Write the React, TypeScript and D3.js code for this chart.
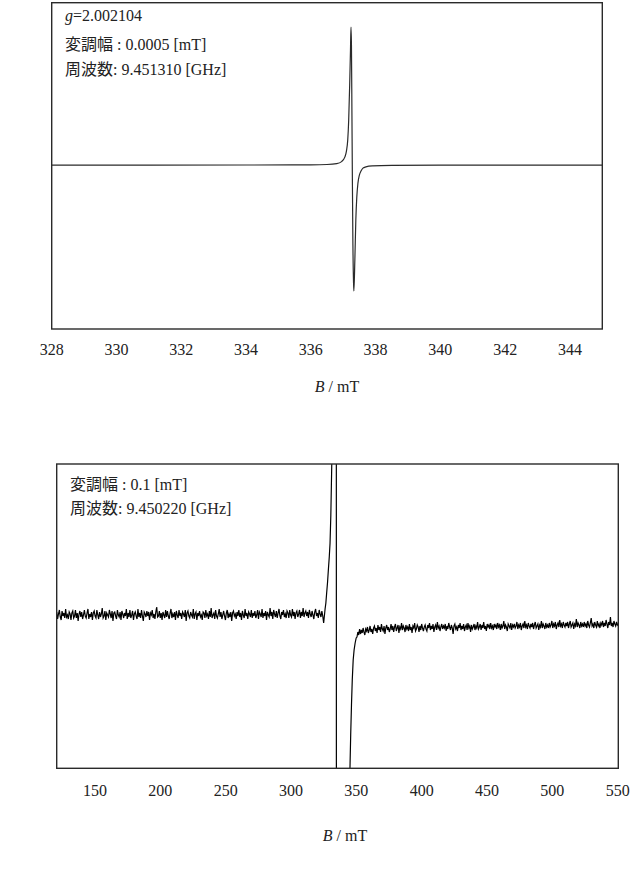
import React from 'react';
import * as d3 from 'd3';

// ---------- Top spectrum (narrow scan) ----------
const topTicks = [328, 330, 332, 334, 336, 338, 340, 342, 344];
const topDomain = [328, 345];
const topField = [
  328.0, 334.0, 336.0, 336.5, 336.8, 336.95, 337.05, 337.1, 337.14, 337.17, 337.2, 337.225, 337.24,
  337.255, 337.27, 337.285, 337.3, 337.32, 337.33, 337.36, 337.39, 337.42, 337.455, 337.5, 337.55,
  337.61, 337.7, 337.9, 338.5, 340.0, 345.0,
];
const topSignal = [
  0, 0.1, 0.3, 0.6, 1.5, 3.5, 8, 14, 25, 45, 80, 115, 138,
  120, 50, -20, -80, -118, -126, -95, -55, -32, -18, -10, -6,
  -3, -1.8, -0.8, -0.3, -0.1, 0,
];
const topLabels = ['2.002104', '変調幅 : 0.0005 [mT]', '周波数: 9.451310 [GHz]'];

// ---------- Bottom spectrum (wide scan) ----------
const bottomTicks = [150, 200, 250, 300, 350, 400, 450, 500, 550];
const bottomDomain = [120.7, 550.5];
const leftNoiseRange = [120.7, 325];
const leftNoise = [
  3, -4, 1, 5, -2, -5, 4, -1, 2, -3, 6, -2, 0, -4, 3, 1, -5, 2, 4, -3,
  -1, 5, -3, 2, -6, 1, 4, -2, 3, -4, 0, 5, -1, -3, 2, 6, -4, 1, -2, 3,
  -5, 2, 4, -1, -3, 5, 0, -4, 3, -2, 1, 7, -3, -1, 4, -5, 2, 0, -2, 5,
  1, -3, 4, -6, 2, 3, -1, -4, 5, 0, -2, 3, -5, 4, 1, -3, 2, -1, 6, -4,
  2, -2, 5, -3, 0, 4, -5, 1, 3, -1, -4, 6, -2, 2, -3, 5, -1, -6, 3, 1,
  -2, 4, -1, 3, -5, 2, 0, 5, -3, 1, -4, 3, 8, -2, -1, 4, -3, 2, -5, 3,
  0, -3, 5, -2, 4, -1, -4, 2, 6, -3, 1, -2, 3, -5, 4, 0, -3, 5, -1, 2,
  -4, 3, 1, -2, 5, -6, 2, 4, -1, -3, 3, 0, -2, 6, -4, 1, 3, -5, 2, -1,
  4, -2, 0, -5, 3, 2, -3, 5, -1, 1, -4, 4, -2, 7, -3, 0, 2, -4, 5, -1,
  -3, 1, 6, -2, 3, -4, 0, 4, -1, -5, 2, 5, -3, 1, -2, 3, -6, 2, 4, -1,
  1, -4, 3, -1, 5, -2, 2, -5, 4, 0, -3, 6, -1, 2, -4, 3, 1, -2, 5, -3,
  2, -1, 4, -3, 0, 5, -4, 3, 1, -2, 6, -3, 2, -1, 4, -5, 3, 0, -2, 7,
  -1, 3, -4, 5, 1, -2, 4, -3, 2, 6, -1, -4, 3, 0, 5, -2, 1, -3, 4, 2,
  -3, 5, 0, -2, 6, -1, 3, -4, 2, 4, -2, 1, 5, -3, 3, -1, 7, -2, 2, 4,
  -1, 3, -3, 5, 1, -2, 4, 0, -4, 3, 6, -1, 2, -3, 5, 1, -2, 4, -1, -8,
];
const spikeField = [
  326.1, 326.7, 327.3, 328.0, 328.6, 329.3, 329.9, 330.5, 331.2, 332.0, 333.5, 334.65, 334.8,
  340.0, 344.5, 345.1, 345.7, 346.3, 346.9, 347.6, 348.3, 349.1, 349.9,
];
const spikeSignal = [
  6, 12, 22, 33, 45, 58, 72, 100, 150, 250, 450, 700, -700,
  -600, -200, -156, -120, -90, -65, -45, -35, -28, -23,
];
const rightNoiseRange = [350.5, 550.5];
const rightNoise = [
  -22, -17, -20, -14, -19, -15, -18, -13, -17, -20, -14, -16, -12, -18, -15, -11, -17, -14, -19, -13,
  -11, -16, -13, -18, -10, -15, -12, -17, -9, -14, -16, -11, -19, -13, -10, -15, -12, -17, -14, -9,
  -15, -11, -17, -12, -9, -16, -13, -10, -18, -12, -14, -8, -15, -11, -13, -17, -10, -14, -12, -16,
  -9, -15, -12, -18, -11, -13, -8, -16, -14, -10, -12, -17, -11, -15, -9, -13, -16, -12, -10, -14,
  -16, -10, -13, -8, -15, -11, -14, -9, -17, -12, -10, -15, -7, -13, -11, -16, -12, -9, -14, -11,
  -13, -9, -16, -11, -14, -8, -12, -15, -10, -13, -19, -11, -9, -14, -12, -16, -10, -13, -8, -15,
  -11, -14, -9, -16, -12, -10, -15, -8, -13, -11, -17, -10, -14, -12, -9, -15, -11, -13, -7, -14,
  -12, -9, -15, -10, -13, -7, -14, -11, -16, -9, -12, -10, -14, -8, -13, -11, -15, -9, -12, -10,
  -14, -8, -12, -10, -15, -9, -13, -11, -6, -14, -10, -12, -16, -9, -11, -13, -8, -15, -10, -12,
  -9, -13, -11, -7, -14, -10, -12, -8, -15, -11, -9, -13, -6, -12, -10, -14, -8, -11, -13, -9,
  -12, -8, -14, -10, -7, -13, -11, -9, -15, -10, -12, -6, -13, -9, -11, -14, -8, -12, -10, -13,
  -8, -12, -10, -6, -13, -9, -11, -7, -14, -10, -8, -12, -5, -11, -9, -13, -7, -10, -12, -8,
  -11, -7, -13, -9, -6, -12, -10, -8, -14, -9, -11, -4, -12, -8, -10, -13, -7, -11, -9, -12,
  -7, -11, -9, -13, -6, -10, -12, -8, -3, -11, -9, -13, -7, -10, -12, -6, -11, -9, -13, -8,
  -10, -6, -12, -8, -11, -5, -9, -13, -7, -10, -2, -11, -8, -12, -6, -9, -11, -7, -10, -9,
];
const bottomLabels = ['変調幅 : 0.1 [mT]', '周波数: 9.450220 [GHz]'];
const axisTitle = ['B', ' / mT'];

const FONT = "'Liberation Serif', 'Times New Roman', 'DejaVu Serif', 'Noto Sans CJK JP', serif";

type Pt = [number, number];

function sampled(range: number[], values: number[]): Pt[] {
  const step = (range[1] - range[0]) / (values.length - 1);
  return values.map((v, i) => [range[0] + i * step, v]);
}

export default function App() {
  // top panel geometry
  const T = { left: 51.7, right: 602.3, top: 2.7, bottom: 329 };
  const xTop = d3.scaleLinear().domain(topDomain).range([T.left, T.right]);
  const yTop = d3.scaleLinear().domain([-164, 162.5]).range([T.bottom, T.top]);
  const topPts: Pt[] = topField.map((b, i) => [b, topSignal[i]]);
  const topPath = d3
    .line<Pt>()
    .x((d) => xTop(d[0]))
    .y((d) => yTop(d[1]))
    .curve(d3.curveMonotoneX)(topPts);

  // bottom panel geometry
  const Bm = { left: 56.7, right: 618.3, top: 464, bottom: 768.3 };
  const xBot = d3.scaleLinear().domain(bottomDomain).range([Bm.left, Bm.right]);
  const yBot = d3.scaleLinear().domain([-153.3, 151]).range([Bm.bottom, Bm.top]);
  const botPts: Pt[] = [
    ...sampled(leftNoiseRange, leftNoise),
    ...spikeField.map((b, i) => [b, spikeSignal[i]] as Pt),
    ...sampled(rightNoiseRange, rightNoise),
  ];
  const botPath = d3
    .line<Pt>()
    .x((d) => xBot(d[0]))
    .y((d) => yBot(d[1]))(botPts);

  const textStyle: React.CSSProperties = { fontFamily: FONT, fontSize: 16, fill: '#222' };

  return (
    <svg
      width={634}
      height={874}
      viewBox="0 0 634 874"
      style={{ position: 'absolute', left: 0, top: 0, background: '#fff' }}
    >
      <defs>
        <clipPath id="clipTop">
          <rect x={T.left} y={T.top} width={T.right - T.left} height={T.bottom - T.top} />
        </clipPath>
        <clipPath id="clipBot">
          <rect x={Bm.left} y={Bm.top} width={Bm.right - Bm.left} height={Bm.bottom - Bm.top} />
        </clipPath>
      </defs>

      {/* ---------- top panel ---------- */}
      <path d={topPath || ''} fill="none" stroke="#2a2a2a" strokeWidth={1.2} clipPath="url(#clipTop)" />
      <rect
        x={T.left}
        y={T.top}
        width={T.right - T.left}
        height={T.bottom - T.top}
        fill="none"
        stroke="#2a2a2a"
        strokeWidth={1.4}
      />
      <text x={65} y={21} style={textStyle}>
        <tspan fontStyle="italic">g</tspan>={topLabels[0]}
      </text>
      <text x={65} y={49.5} style={textStyle}>
        {topLabels[1]}
      </text>
      <text x={65} y={74.5} style={textStyle}>
        {topLabels[2]}
      </text>
      {topTicks.map((t) => (
        <text key={t} x={xTop(t)} y={355} textAnchor="middle" style={textStyle}>
          {t}
        </text>
      ))}
      <text x={337} y={392} textAnchor="middle" style={textStyle}>
        <tspan fontStyle="italic">{axisTitle[0]}</tspan>
        {axisTitle[1]}
      </text>

      {/* ---------- bottom panel ---------- */}
      <path d={botPath || ''} fill="none" stroke="#000" strokeWidth={1.2} clipPath="url(#clipBot)" />
      <rect
        x={Bm.left}
        y={Bm.top}
        width={Bm.right - Bm.left}
        height={Bm.bottom - Bm.top}
        fill="none"
        stroke="#2a2a2a"
        strokeWidth={1.4}
      />
      <text x={70} y={489.5} style={textStyle}>
        {bottomLabels[0]}
      </text>
      <text x={70} y={513.5} style={textStyle}>
        {bottomLabels[1]}
      </text>
      {bottomTicks.map((t) => (
        <text key={t} x={xBot(t)} y={796} textAnchor="middle" style={textStyle}>
          {t}
        </text>
      ))}
      <text x={345} y={841} textAnchor="middle" style={textStyle}>
        <tspan fontStyle="italic">{axisTitle[0]}</tspan>
        {axisTitle[1]}
      </text>
    </svg>
  );
}
